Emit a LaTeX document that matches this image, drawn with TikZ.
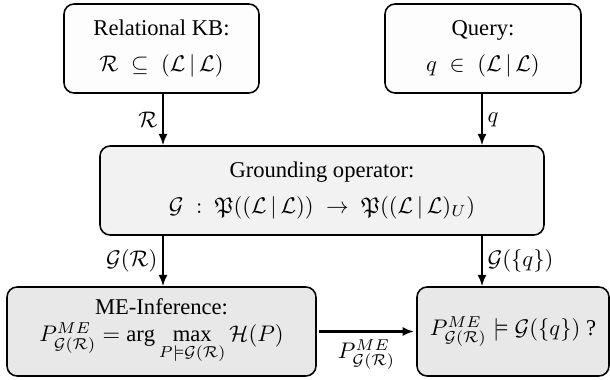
\documentclass[tikz,border=0pt]{standalone}
\usepackage{amsmath,amssymb}
\usepackage{fontspec}
\setmainfont{Liberation Serif}
\usetikzlibrary{arrows.meta}
\definecolor{boxtop}{HTML}{FDFDFD}
\definecolor{boxmid}{HTML}{F2F2F2}
\definecolor{boxlow}{HTML}{E8E8E8}
\tikzset{
  blk/.style={draw=black, line width=0.7pt, rounded corners=4.5pt, align=center, inner sep=0pt, font=\fontsize{10}{12}\selectfont},
  flow/.style={-{Latex[length=5pt,width=4pt]}, line width=0.9pt},
  lbl/.style={font=\fontsize{10}{12}\selectfont, inner sep=2pt}
}
\begin{document}
\begin{tikzpicture}[x=0.443pt,y=-0.443pt]
\useasboundingbox (0,0) rectangle (610,380);
\node[blk, fill=boxtop, minimum width=195*0.443pt, minimum height=89*0.443pt] (kb) at (161.5,48.5)
  {Relational KB:\\[4pt] $\mathcal{R}\;\subseteq\;(\mathcal{L}\,|\,\mathcal{L})$};
\node[blk, fill=boxtop, minimum width=196*0.443pt, minimum height=89*0.443pt] (qu) at (483,48.5)
  {Query:\\[4pt] $q\;\in\;(\mathcal{L}\,|\,\mathcal{L})$};
\node[blk, fill=boxmid, minimum width=444*0.443pt, minimum height=89*0.443pt] (gr) at (322,190.5)
  {Grounding operator:\\[4pt] $\mathcal{G}\;:\;\mathfrak{P}((\mathcal{L}\,|\,\mathcal{L}))\;\to\;\mathfrak{P}((\mathcal{L}\,|\,\mathcal{L})_U)$};
\node[blk, fill=boxlow, minimum width=309*0.443pt, minimum height=89*0.443pt] (me) at (161.5,331.5)
  {ME-Inference:\\[0pt] $P^{ME}_{\mathcal{G}(\mathcal{R})} = \arg\max\limits_{P\models\mathcal{G}(\mathcal{R})}\mathcal{H}(P)$};
\node[blk, fill=boxlow, minimum width=192*0.443pt, minimum height=89*0.443pt] (rs) at (513,331.5)
  {$P^{ME}_{\mathcal{G}(\mathcal{R})} \models \mathcal{G}(\{q\})$ ?};
\coordinate (xl) at (163,0);
\coordinate (xr) at (482,0);
\draw[flow] (kb.south -| xl) -- (gr.north -| xl) node[lbl, midway, left] {$\mathcal{R}$};
\draw[flow] (qu.south -| xr) -- (gr.north -| xr) node[lbl, midway, right] {$q$};
\draw[flow] (gr.south -| xl) -- (me.north -| xl) node[lbl, midway, left] {$\mathcal{G}(\mathcal{R})$};
\draw[flow] (gr.south -| xr) -- (rs.north -| xr) node[lbl, midway, right] {$\mathcal{G}(\{q\})$};
\draw[flow] ([xshift=1pt]me.east) -- ([xshift=-1pt]rs.west) node[lbl, midway, below=1pt] {$P^{ME}_{\mathcal{G}(\mathcal{R})}$};
\end{tikzpicture}
\end{document}
